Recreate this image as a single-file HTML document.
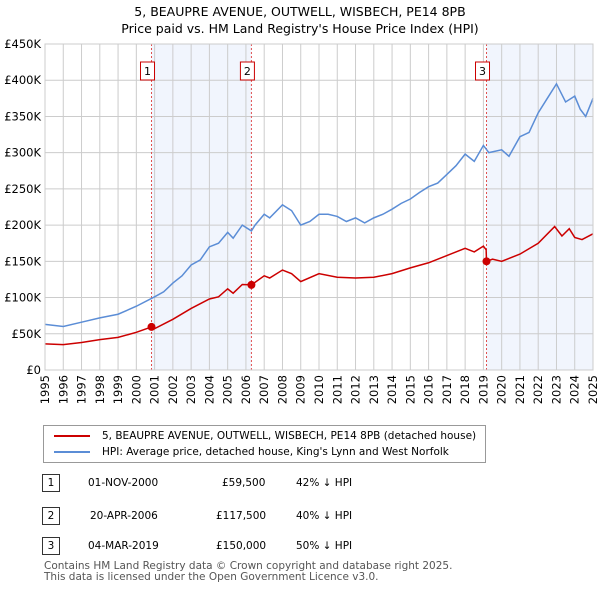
<!DOCTYPE html>
<html><head><meta charset="utf-8"><style>
body{margin:0;width:600px;height:590px;background:#fff;font-family:"DejaVu Sans","Liberation Sans",sans-serif;overflow:hidden;position:relative}
.t{position:absolute;font-size:11px;color:#000}
</style></head><body>
<div class="t" style="left:0;width:600px;top:3px;text-align:center;font-size:12.5px;line-height:17px">5, BEAUPRE AVENUE, OUTWELL, WISBECH, PE14 8PB<br>Price paid vs. HM Land Registry's House Price Index (HPI)</div>
<svg id="c" width="600" height="420" style="position:absolute;left:0;top:0;font-family:'DejaVu Sans','Liberation Sans',sans-serif"></svg>
<div style="position:absolute;left:43px;top:425px;width:441px;height:36px;border:1px solid #999;font-size:10.5px">
<div style="position:absolute;left:10px;top:4px"><span style="display:inline-block;width:36px;height:2px;background:#cc0000;vertical-align:middle;margin-right:12px"></span>5, BEAUPRE AVENUE, OUTWELL, WISBECH, PE14 8PB (detached house)</div>
<div style="position:absolute;left:10px;top:20px"><span style="display:inline-block;width:36px;height:2px;background:#5b8dd6;vertical-align:middle;margin-right:12px"></span>HPI: Average price, detached house, King's Lynn and West Norfolk</div>
</div>
<div style="font-size:10.5px">
<div style="position:absolute;left:42px;top:474px;width:16px;height:16px;border:1px solid #333;text-align:center;line-height:16px">1</div>
<div class="t" style="left:88px;top:477px;font-size:10.5px">01-NOV-2000</div><div class="t" style="left:222px;top:477px;font-size:10.5px">£59,500</div><div class="t" style="left:296px;top:477px;font-size:10.5px">42% ↓ HPI</div>
<div style="position:absolute;left:42px;top:507px;width:16px;height:16px;border:1px solid #333;text-align:center;line-height:16px">2</div>
<div class="t" style="left:90px;top:510px;font-size:10.5px">20-APR-2006</div><div class="t" style="left:216px;top:510px;font-size:10.5px">£117,500</div><div class="t" style="left:296px;top:510px;font-size:10.5px">40% ↓ HPI</div>
<div style="position:absolute;left:42px;top:537px;width:16px;height:16px;border:1px solid #333;text-align:center;line-height:16px">3</div>
<div class="t" style="left:88px;top:540px;font-size:10.5px">04-MAR-2019</div><div class="t" style="left:216px;top:540px;font-size:10.5px">£150,000</div><div class="t" style="left:296px;top:540px;font-size:10.5px">50% ↓ HPI</div>
</div>
<div class="t" style="left:44px;top:561px;font-size:10.5px;color:#555;line-height:11px">Contains HM Land Registry data © Crown copyright and database right 2025.<br>This data is licensed under the Open Government Licence v3.0.</div>
<script>
const hpiYears=[1995,1996,1997,1998,1999,2000,2001,2001.5,2002,2002.5,2003,2003.5,2004,2004.5,2005,2005.3,2005.8,2006.3,2006.5,2007,2007.3,2008,2008.5,2009,2009.5,2010,2010.5,2011,2011.5,2012,2012.5,2013,2013.5,2014,2014.5,2015,2015.5,2016,2016.5,2017,2017.5,2018,2018.5,2019,2019.3,2020,2020.4,2021,2021.5,2022,2022.5,2023,2023.5,2024,2024.3,2024.6,2025];
const hpiValues=[63,60,66,72,77,88,101,108,120,130,145,152,170,175,190,182,200,192,200,215,210,228,220,200,205,215,215,212,205,210,203,210,215,222,230,236,245,253,258,270,282,298,288,310,300,304,295,322,328,355,375,395,370,378,360,350,375];
const paidYears=[1995,1996,1997,1998,1999,2000,2000.83,2001,2002,2003,2004,2004.5,2005,2005.3,2005.8,2006.3,2007,2007.3,2008,2008.5,2009,2010,2011,2012,2013,2014,2015,2016,2017,2018,2018.5,2019,2019.15,2019.17,2019.5,2020,2021,2022,2022.9,2023.3,2023.7,2024,2024.4,2025];
const paidValues=[36,35,38,42,45,52,59.5,57,70,85,98,101,112,106,118,117.5,130,127,138,133,122,133,128,127,128,133,141,148,158,168,163,171,166,150,153,150,160,175,198,185,195,183,180,188];
const saleYears=[2000.83,2006.3,2019.17];
const saleValues=[59.5,117.5,150];
const saleLabels=["1","2","3"];
const yTicks=[0,50,100,150,200,250,300,350,400,450];
const xTicks=[1995,1996,1997,1998,1999,2000,2001,2002,2003,2004,2005,2006,2007,2008,2009,2010,2011,2012,2013,2014,2015,2016,2017,2018,2019,2020,2021,2022,2023,2024,2025];
const X=y=>45+(y-1995)*(593-45)/30, Y=v=>370-v*326/450;
const s=document.getElementById('c'),NS='http://www.w3.org/2000/svg';
function mk(t,a,p){const e=document.createElementNS(NS,t);for(const k in a)e.setAttribute(k,a[k]);(p||s).appendChild(e);return e;}
let r=mk('rect',{x:X(saleYears[0]),y:44,width:X(saleYears[1])-X(saleYears[0]),height:326,fill:'#eef3fc',opacity:0.8});

r=mk('rect',{x:X(saleYears[2]),y:44,width:X(2025)-X(saleYears[2]),height:326,fill:'#eef3fc',opacity:0.8});

yTicks.forEach(v=>{const l=mk('line',{x1:45,x2:593,y1:Y(v),y2:Y(v),stroke:'#ccc'});

const t=mk('text',{x:41,y:Y(v)+4,'text-anchor':'end','font-size':11.5,fill:'#000'});t.textContent=v?'£'+v+'K':'£0';
});
xTicks.forEach(y=>{const l=mk('line',{x1:X(y),x2:X(y),y1:44,y2:370,stroke:'#ccc'});

const t=mk('text',{x:0,y:0,'text-anchor':'end','font-size':11.5,fill:'#000',transform:`translate(${X(y)+4},375) rotate(-90)`});t.textContent=y;
});
function line(xs,vs,c,n){const p=mk('polyline',{points:xs.map((y,i)=>X(y)+','+Y(vs[i])).join(' '),fill:'none',stroke:c,'stroke-width':1.5});
}
saleYears.forEach((y,i)=>{const l=mk('line',{x1:X(y),x2:X(y),y1:44,y2:370,stroke:'#e05050','stroke-dasharray':'2,2'});
});
line(hpiYears,hpiValues,'#5b8dd6','hpi-line');
line(paidYears,paidValues,'#cc0000','price-paid-line');
saleYears.forEach((y,i)=>{const c=mk('circle',{cx:X(y),cy:Y(saleValues[i]),r:4,fill:'#cc0000'});

const b=mk('rect',{x:X(y)-11,y:62,width:14,height:18,fill:'#fff',stroke:'#cc0000'});

const t=mk('text',{x:X(y)-4,y:75,'text-anchor':'middle','font-size':11});t.textContent=saleLabels[i];
});
const ax=mk('rect',{x:45,y:44,width:548,height:326,fill:'none',stroke:'#ccc'});

</script>
</body></html>
